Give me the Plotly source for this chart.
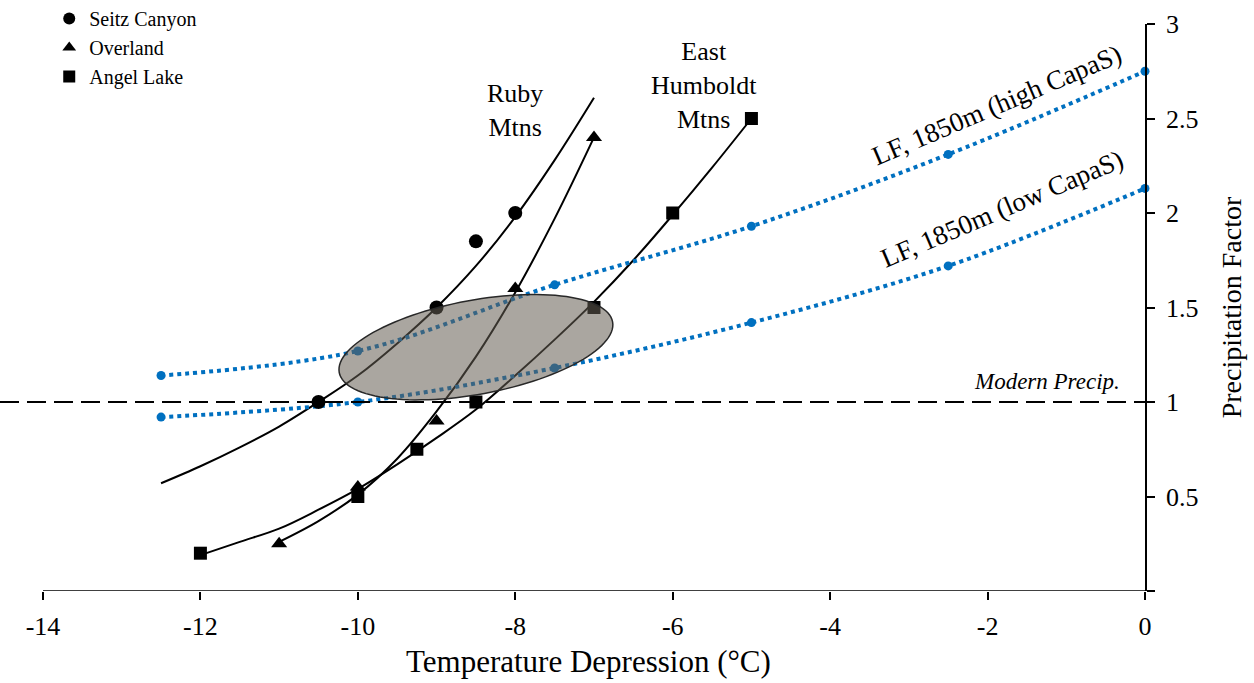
import numpy as np
import plotly.graph_objects as go

# ---------------- data ----------------
seitz_x = [-10.5, -9.0, -8.5, -8.0]
seitz_y = [1.0, 1.5, 1.85, 2.0]

overland_x = [-11.0, -10.0, -9.0, -8.0, -7.0]
overland_y = [0.25, 0.55, 0.9, 1.6, 2.4]

angel_x = [-12.0, -10.0, -9.25, -8.5, -7.0, -6.0, -5.0]
angel_y = [0.2, 0.5, 0.75, 1.0, 1.5, 2.0, 2.5]

# trend curves as drawn in the reference
ruby_curve_x = [-12.5, -12.0, -11.5, -11.0, -10.5, -10.0, -9.5, -9.0, -8.5, -8.0, -7.5, -7.0]
ruby_curve_y = [0.57, 0.66, 0.76, 0.87, 1.0, 1.14, 1.31, 1.5, 1.72, 1.98, 2.28, 2.61]

overland_curve_x = [-11.0, -10.5, -10.0, -9.5, -9.0, -8.5, -8.0, -7.5, -7.0]
overland_curve_y = [0.26, 0.37, 0.51, 0.70, 0.95, 1.24, 1.58, 1.97, 2.4]

angel_curve_x = [-12.0, -11.5, -11.0, -10.5, -10.0, -9.5, -9.0, -8.5, -8.0, -7.5, -7.0, -6.5, -6.0, -5.5, -5.0]
angel_curve_y = [0.19, 0.26, 0.33, 0.43, 0.54, 0.67, 0.81, 0.96, 1.14, 1.33, 1.53, 1.75, 1.99, 2.24, 2.5]

lf_x = [-12.5, -10.0, -7.5, -5.0, -2.5, 0.0]
lf_high_y = [1.14, 1.27, 1.62, 1.93, 2.31, 2.75]
lf_low_y = [0.92, 1.0, 1.18, 1.42, 1.72, 2.13]

modern_precip = 1.0

x_ticks = [-14, -12, -10, -8, -6, -4, -2, 0]
x_ticktext = ["-14", "-12", "-10", "-8", "-6", "-4", "-2", "0"]
y_ticks = [0, 0.5, 1, 1.5, 2, 2.5, 3]
y_ticktext = ["", "0.5", "1", "1.5", "2", "2.5", "3"]

# ---------------- style ----------------
FONT = "Liberation Serif"
BLUE = "#0070C0"
W, H = 1254, 683
M_L, M_R, M_T, M_B = 0, 109, 24, 92
X_RANGE = [-14.546, 0]
Y_RANGE = [0, 3]

fig = go.Figure()

curve_style = dict(color="black", width=2)
for cx, cy in [(ruby_curve_x, ruby_curve_y),
               (overland_curve_x, overland_curve_y),
               (angel_curve_x, angel_curve_y)]:
    fig.add_trace(go.Scatter(x=cx, y=cy, mode="lines", line=dict(shape="spline", **curve_style),
                             showlegend=False, hoverinfo="skip"))

for yy in (lf_high_y, lf_low_y):
    fig.add_trace(go.Scatter(x=lf_x, y=yy, mode="lines+markers",
                             line=dict(color=BLUE, width=4, dash="4px,4px", shape="spline"),
                             marker=dict(color=BLUE, size=9), cliponaxis=False,
                             showlegend=False))

fig.add_trace(go.Scatter(x=seitz_x, y=seitz_y, mode="markers", name="Seitz Canyon",
                         marker=dict(symbol="circle", size=14, color="black")))
fig.add_trace(go.Scatter(x=overland_x, y=overland_y, mode="markers", name="Overland",
                         marker=dict(symbol="triangle-up", size=14, color="black")))
fig.add_trace(go.Scatter(x=angel_x, y=angel_y, mode="markers", name="Angel Lake",
                         marker=dict(symbol="square", size=13, color="black")))

# ---------------- ellipse (highlight region) ----------------
plot_w = W - M_L - M_R
plot_h = H - M_T - M_B
px_per_x = plot_w / (X_RANGE[1] - X_RANGE[0])
px_per_y = plot_h / (Y_RANGE[1] - Y_RANGE[0])
e_cx, e_cy = -8.5, 1.29
e_a, e_b = 139.0, 47.0
e_rot = np.deg2rad(10.5)
t = np.linspace(0, 2 * np.pi, 121)
ex = e_cx + (e_a * np.cos(t) * np.cos(e_rot) - e_b * np.sin(t) * np.sin(e_rot)) / px_per_x
ey = e_cy + (e_a * np.cos(t) * np.sin(e_rot) + e_b * np.sin(t) * np.cos(e_rot)) / px_per_y
path = "M " + " L ".join(f"{a:.4f},{b:.4f}" for a, b in zip(ex, ey)) + " Z"

shapes = [
    dict(type="line", xref="paper", yref="y", x0=0, x1=1, y0=modern_precip, y1=modern_precip,
         line=dict(color="black", width=2, dash="19px,8px")),
    dict(type="line", xref="x", yref="y", x0=x_ticks[0], x1=x_ticks[-1], y0=0, y1=0,
         line=dict(color="black", width=1.5)),
    dict(type="path", xref="x", yref="y", path=path, layer="above",
         fillcolor="rgba(100,92,82,0.55)", line=dict(color="rgb(40,40,40)", width=1.5)),
]

ann_font = dict(family=FONT, size=26, color="black")
annotations = [
    dict(x=-8.0, y=2.545, xref="x", yref="y", text="Ruby<br>Mtns", showarrow=False,
         font=ann_font, align="center"),
    dict(x=-5.6, y=2.672, xref="x", yref="y", text="East<br>Humboldt<br>Mtns", showarrow=False,
         font=ann_font, align="center"),
    dict(x=-0.29, y=1.11, xref="x", yref="y", text="<i>Modern Precip.</i>", showarrow=False,
         xanchor="right", yanchor="middle", font=dict(family=FONT, size=23, color="black")),
    dict(x=-1.88, y=2.57, xref="x", yref="y", text="LF, 1850m (high CapaS)", showarrow=False,
         textangle=-23, font=dict(family=FONT, size=27, color="black")),
    dict(x=-1.82, y=2.02, xref="x", yref="y", text="LF, 1850m (low CapaS)", showarrow=False,
         textangle=-23, font=dict(family=FONT, size=27, color="black")),
    dict(x=0.514, y=-0.125, xref="paper", yref="paper", text="Temperature Depression (°C)",
         showarrow=False, xanchor="center", yanchor="middle",
         font=dict(family=FONT, size=31, color="black")),
]

fig.update_layout(
    width=W, height=H,
    margin=dict(l=M_L, r=M_R, t=M_T, b=M_B, pad=0, autoexpand=False),
    plot_bgcolor="white", paper_bgcolor="white",
    font=dict(family=FONT, color="black"),
    shapes=shapes, annotations=annotations,
    legend=dict(x=0.043, y=1.044, xanchor="left", yanchor="top",
                font=dict(family=FONT, size=20), bgcolor="rgba(0,0,0,0)",
                tracegroupgap=0, itemsizing="constant", itemwidth=30),
    xaxis=dict(range=X_RANGE, tickvals=x_ticks, ticktext=x_ticktext, ticks="outside", ticklen=8,
               tickwidth=1.5, tickcolor="black", showline=False, showgrid=False, zeroline=False,
               ticklabelstandoff=4, tickfont=dict(family=FONT, size=26)),
    yaxis=dict(range=Y_RANGE, side="right", tickvals=y_ticks, ticktext=y_ticktext,
               ticks="outside", ticklen=8, tickwidth=1.5, tickcolor="black",
               showline=True, linecolor="black", linewidth=1.5,
               showgrid=False, zeroline=False, ticklabelstandoff=6,
               tickfont=dict(family=FONT, size=26),
               title=dict(text="Precipitation Factor", font=dict(family=FONT, size=28), standoff=24)),
)

fig.write_html("out.html")
